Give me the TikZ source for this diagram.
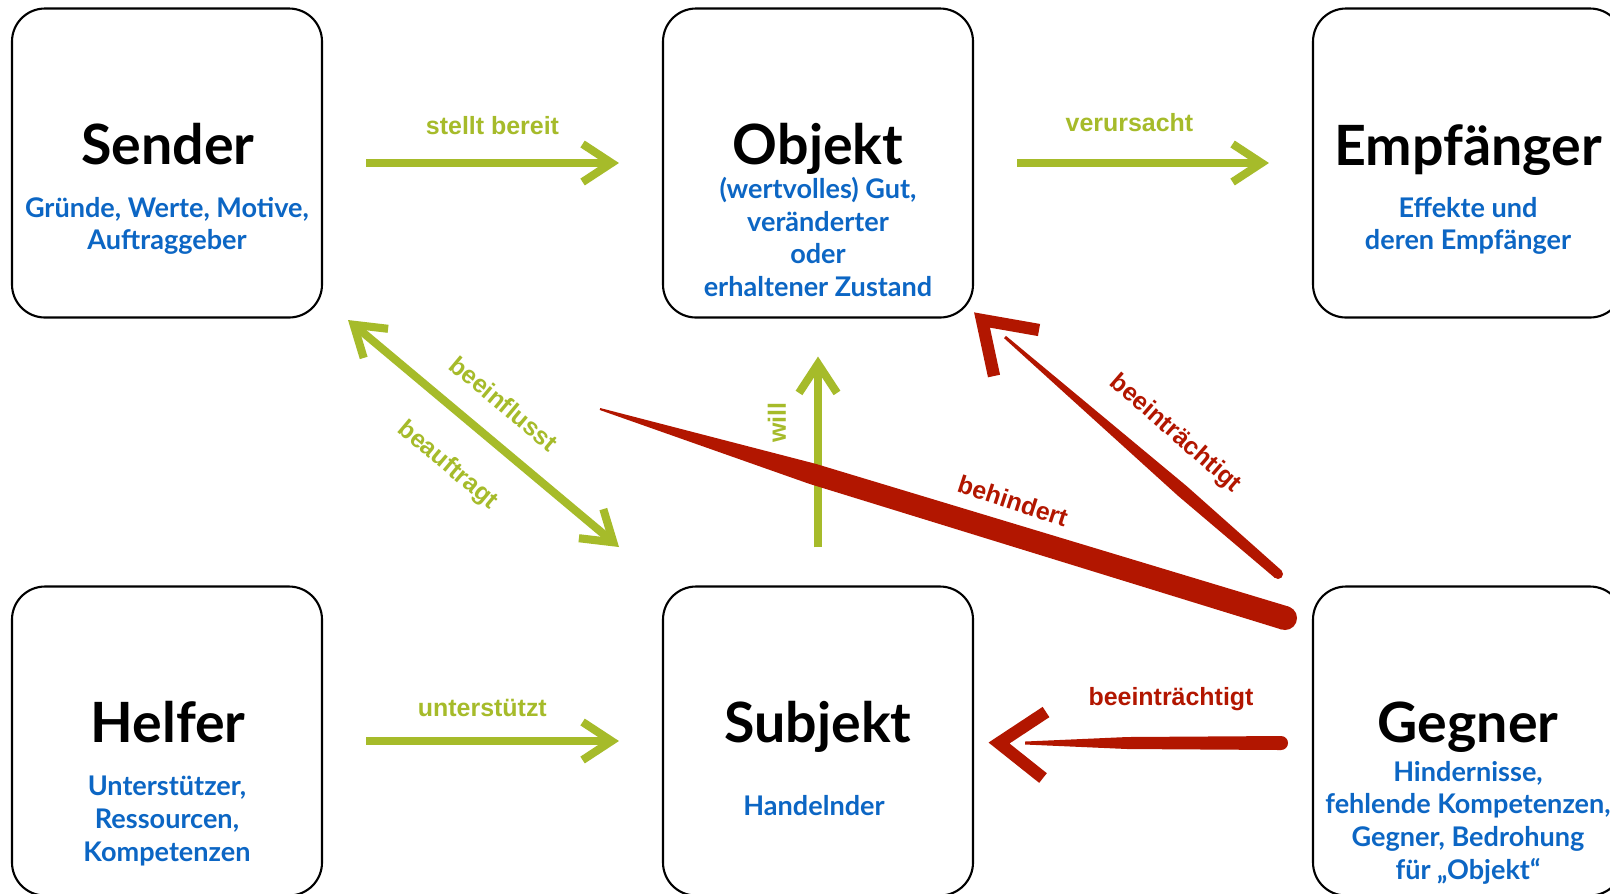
\documentclass[tikz,border=0pt]{standalone}
\usepackage{fontspec}
\setmainfont{Liberation Sans}
\newfontfamily\boxfont{Lato}
\usetikzlibrary{arrows.meta}
\usetikzlibrary{calc}
\definecolor{lgreen}{RGB}{166,187,42}
\definecolor{bred}{RGB}{178,22,0}
\definecolor{tblue}{RGB}{12,102,196}
\tikzset{box/.style={draw, line width=0.6pt, rounded corners=3.3mm, minimum width=31mm, minimum height=30.9mm}}
\tikzset{ttl/.style={font=\boxfont\bfseries\fontsize{15.8}{18}\selectfont, anchor=base, inner sep=0}}
\tikzset{sub/.style={font=\boxfont\bfseries\fontsize{7.7}{9.3}\selectfont, text=tblue, align=center, anchor=north, inner sep=0, yshift=7pt, execute at begin node={\rule{0pt}{7pt}}}}
\tikzset{l/.style={font=\bfseries\fontsize{7.1}{8}\selectfont, text=lgreen, inner sep=0}}
\tikzset{rl/.style={font=\bfseries\fontsize{7.1}{8}\selectfont, text=bred, inner sep=0}}
\tikzset{arr/.style={draw=lgreen, line width=2.3pt, >={Straight Barb[length=2.9mm, width=3.8mm]}}}
\tikzset{gap/.style={shorten <=#1, shorten >=#1}}
\tikzset{head/.style={draw=bred, line width=3.5pt, line join=miter}}

\begin{document}
\begin{tikzpicture}[x=0.1mm, y=-0.1mm]
  \useasboundingbox (0,0) rectangle (1610,893);
  \fill[white] (0,0) rectangle (1610,893);
  \clip (0,0) rectangle (1610,893);

  \node[box] (S) at (167,163) {};
  \node[box] (O) at (818,163) {}
    edge [<-, arr, gap=4.3mm] node [l, above=2.4mm, pos=0.5] {stellt bereit} (S);
  \node[box] (E) at (1468,163) {}
    edge [<-, arr, gap=4.3mm] node [l, above=2.7mm, pos=0.54] {verursacht} (O);
  \node[box] (H) at (167,741) {};
  \node[box] (Su) at (818,741) {}
    edge [<-, arr, gap=4.3mm] node [l, above=2.0mm, pos=0.53] {unterstützt} (H)
    edge [->, arr, gap=3.8mm] node [l, sloped, allow upside down, above=2.8mm, pos=0.61] {will} (O);
  \node[box] (G) at (1468,741) {};

  \node[ttl] (St) at (168,164) {Sender};
  \node[sub] (Ss) at (167,221) {Gründe, Werte, Motive,\\Auftraggeber};
  \node[ttl] (Ot) at (818,164) {Objekt};
  \node[sub] (Os) at (818,201) {(wertvolles) Gut,\\veränderter\\oder\\erhaltener Zustand};
  \node[ttl] (Et) at (1468,165) {Empfänger};
  \node[sub] (Es) at (1468,221) {Effekte und\\deren Empfänger};
  \node[ttl] (Ht) at (168,742) {Helfer};
  \node[sub] (Hs) at (167,800) {Unterstützer,\\Ressourcen,\\Kompetenzen};
  \node[ttl] (Sut) at (818,742) {Subjekt};
  \node[sub] (Sus) at (814,815) {Handelnder};
  \node[ttl] (Gt) at (1468,742) {Gegner};
  \node[sub] (Gs) at (1468,785) {Hindernisse,\\fehlende Kompetenzen,\\Gegner, Bedrohung\\für „Objekt“};

  \coordinate (d1) at (348,320);
  \coordinate (d2) at (619,547);
  \draw[arr, <->] (d1) -- node [l, sloped, above=2.3mm, pos=0.49] {beeinflusst}
    node [l, sloped, below=3.2mm, pos=0.48] {beauftragt} (d2);

  \coordinate (b1) at (1285,618);
  \coordinate (b2) at (600,409);
  \coordinate (bm) at ($(b1)!0.69!(b2)$);
  \fill[bred] ($(b1)!1.2mm!90:(b2)$) -- ($(bm)!1.05mm!90:(b2)$) -- ($(b2)!0.1mm!-90:(b1)$)
    -- ($(b2)!0.1mm!90:(b1)$) -- ($(bm)!1.05mm!-90:(b2)$) -- ($(b1)!1.2mm!-90:(b2)$) -- cycle;
  \fill[bred] (b1) circle (1.2mm);
  \node[rl, rotate=-18] (bh) at (1013,501) {behindert};

  \coordinate (c1) at (1278,574);
  \coordinate (c2) at (1005,337);
  \coordinate (cm) at ($(c1)!0.35!(c2)$);
  \fill[bred] ($(c1)!0.5mm!90:(c2)$) -- ($(cm)!0.65mm!90:(c2)$) -- ($(c2)!0.15mm!-90:(c1)$)
    -- ($(c2)!0.15mm!90:(c1)$) -- ($(cm)!0.65mm!-90:(c2)$) -- ($(c1)!0.5mm!-90:(c2)$) -- cycle;
  \fill[bred] (c1) circle (0.5mm);
  \coordinate (ct) at (982,320);
  \draw[head] (1039,330) -- (ct) -- (994,376);
  \node[rl, rotate=-41] (bt1) at (1175,434) {beeinträchtigt};

  \coordinate (e1) at (1281,743);
  \coordinate (e2) at (1025,743);
  \coordinate (em) at ($(e1)!0.6!(e2)$);
  \fill[bred] ($(e1)!0.7mm!90:(e2)$) -- ($(em)!0.6mm!90:(e2)$) -- ($(e2)!0.15mm!-90:(e1)$)
    -- ($(e2)!0.15mm!90:(e1)$) -- ($(em)!0.6mm!-90:(e2)$) -- ($(e1)!0.7mm!-90:(e2)$) -- cycle;
  \fill[bred] (e1) circle (0.7mm);
  \coordinate (et) at (999,743);
  \draw[head] (1046,712) -- (et) -- (1043,778);
  \node[rl, anchor=base] (bt2) at (1171,705) {beeinträchtigt};
\end{tikzpicture}
\end{document}
